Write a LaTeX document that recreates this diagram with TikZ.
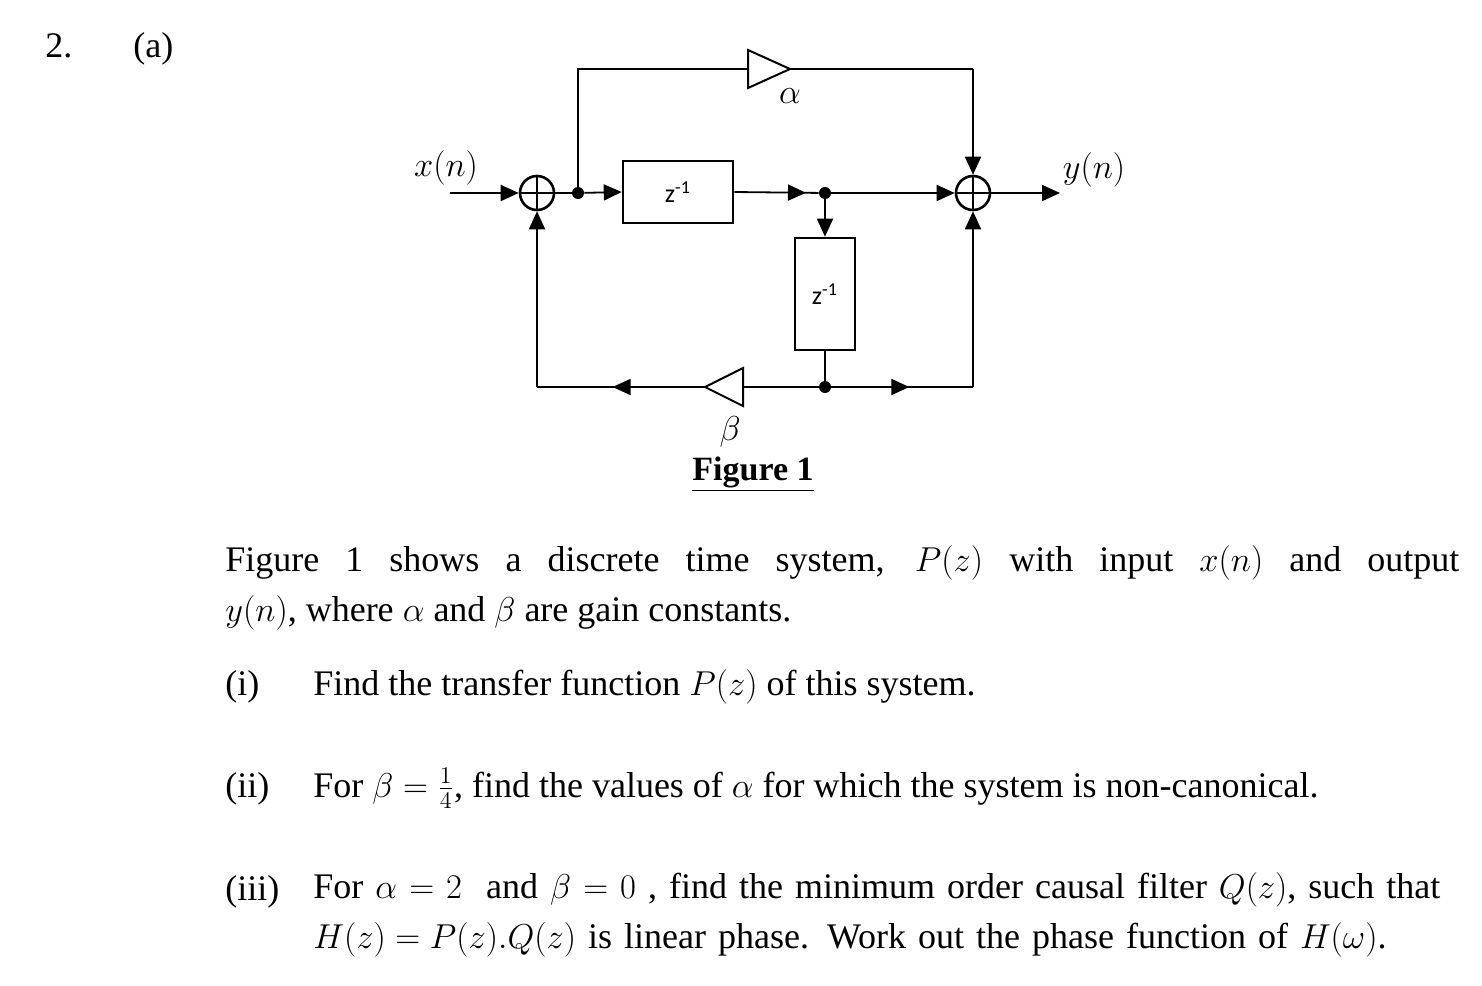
\documentclass[tikz,border=0pt]{standalone}
\usepackage{fontspec}
\setmainfont{Liberation Serif}
\newfontfamily\calib{Carlito}
\usetikzlibrary{arrows.meta,decorations.markings}
\begin{document}
\begin{tikzpicture}[x=0.5pt,y=-0.5pt,
  wire/.style={line width=0.9pt},
  mid/.style={wire,decoration={markings,mark=at position #1 with {\arrow{Triangle[length=9pt,width=8pt]}}},postaction=decorate},
  tip/.style={wire,-{Triangle[length=9pt,width=8pt]}},
  box/.style={draw,line width=1.3pt,inner sep=0pt},
  dot/.style={circle,fill,inner sep=0pt,minimum size=6pt},
  sum/.style={circle,draw,line width=1.3pt,minimum size=17pt,inner sep=0pt,path picture={\draw[line width=1.3pt] (path picture bounding box.north)--(path picture bounding box.south) (path picture bounding box.west)--(path picture bounding box.east);}},
  lbl/.style={font=\fontsize{17}{20}\selectfont},
  zt/.style={font=\calib\fontsize{13}{15}\selectfont},
  txt/.style={font=\fontsize{18}{25}\selectfont,anchor=base west,inner sep=0pt,align=justify}]
\useasboundingbox (0,0) rectangle (1482,985);
% nodes
\node[sum] (s1) at (537,193) {};
\node[sum] (s2) at (973,193) {};
\node[dot] (d1) at (578,193) {};
\node[dot] (d2) at (825,193) {};
\node[dot] (d3) at (825,387) {};
\node[box,minimum width=55pt,minimum height=31pt,zt] (z1) at (678,192) {z\textsuperscript{-1}};
\node[box,minimum width=30pt,minimum height=56pt,zt] (z2) at (825,294) {z\textsuperscript{-1}};
\coordinate (in) at (450,193);
\coordinate (out) at (1060,193);
\coordinate (tl) at (578,69);
\coordinate (tr) at (973,69);
\coordinate (bl) at (537,387);
\coordinate (br) at (973,387);
% alpha triangle
\draw[line width=1pt] (748,50)--(790,69)--(748,88)--cycle;
\node[lbl] (al) at (790,96) {$\alpha$};
% beta triangle
\draw[line width=1pt] (743,368)--(705,387)--(743,406)--cycle;
\node[lbl] (be) at (730,432) {$\beta$};
\node[lbl] (xn) at (446,168) {$x(n)$};
\node[lbl] (yn) at (1094,170) {$y(n)$};
\node (fig) at (753,474) {\fontsize{17}{20}\selectfont\bfseries\underline{Figure 1}};
% connectors
\draw[tip] (in) -- (s1.west);
\draw[wire] (s1.east) -- (d1);
\draw[tip] (d1) -- (z1.west);
\draw[mid=0.85] (z1.east) -- (d2);
\draw[tip] (d2) -- (s2.west);
\draw[tip] (d2) -- (z2.north);
\draw[wire] (z2.south) -- (d3);
\draw[tip] (s2.east) -- (out);
\draw[wire] (d1) -- (tl) -- (748,69);
\draw[wire] (790,69) -- (tr);
\draw[tip] (tr) -- (s2.north);
\draw[wire] (d3) -- (743,387);
\draw[mid=0.55] (705,387) -- (bl);
\draw[tip] (bl) -- (s1.south);
\draw[mid=0.55] (d3) -- (br);
\draw[tip] (br) -- (s2.south);
% text
\node[txt] (n2) at (45,57) {2.};
\node[txt] (na) at (133,57) {(a)};
\node[txt,text width=617pt,anchor=north west] (p) at (225,545) {Figure 1 shows a discrete time system, $P(z)$ with input $x(n)$ and output\linebreak $y(n)$, where $\alpha$ and $\beta$ are gain constants.};
\node[txt] (i1) at (225,695) {(i)};
\node[txt] (t1) at (313,695) {Find the transfer function $P(z)$ of this system.};
\node[txt] (i2) at (225,797) {(ii)};
\node[txt] (t2) at (313,797) {For $\beta=\frac{1}{4}$, find the values of $\alpha$ for which the system is non-canonical.};
\node[txt] (i3) at (225,900) {(iii)};
\node[txt,text width=573pt,anchor=north west,align=left] (t3) at (313,872) {For $\alpha=2$ \ and $\beta=0$ , find the minimum order causal filter $Q(z)$, such that $H(z)=P(z).Q(z)$ is linear phase. Work out the phase function of $H(\omega)$.};
\end{tikzpicture}
\end{document}
